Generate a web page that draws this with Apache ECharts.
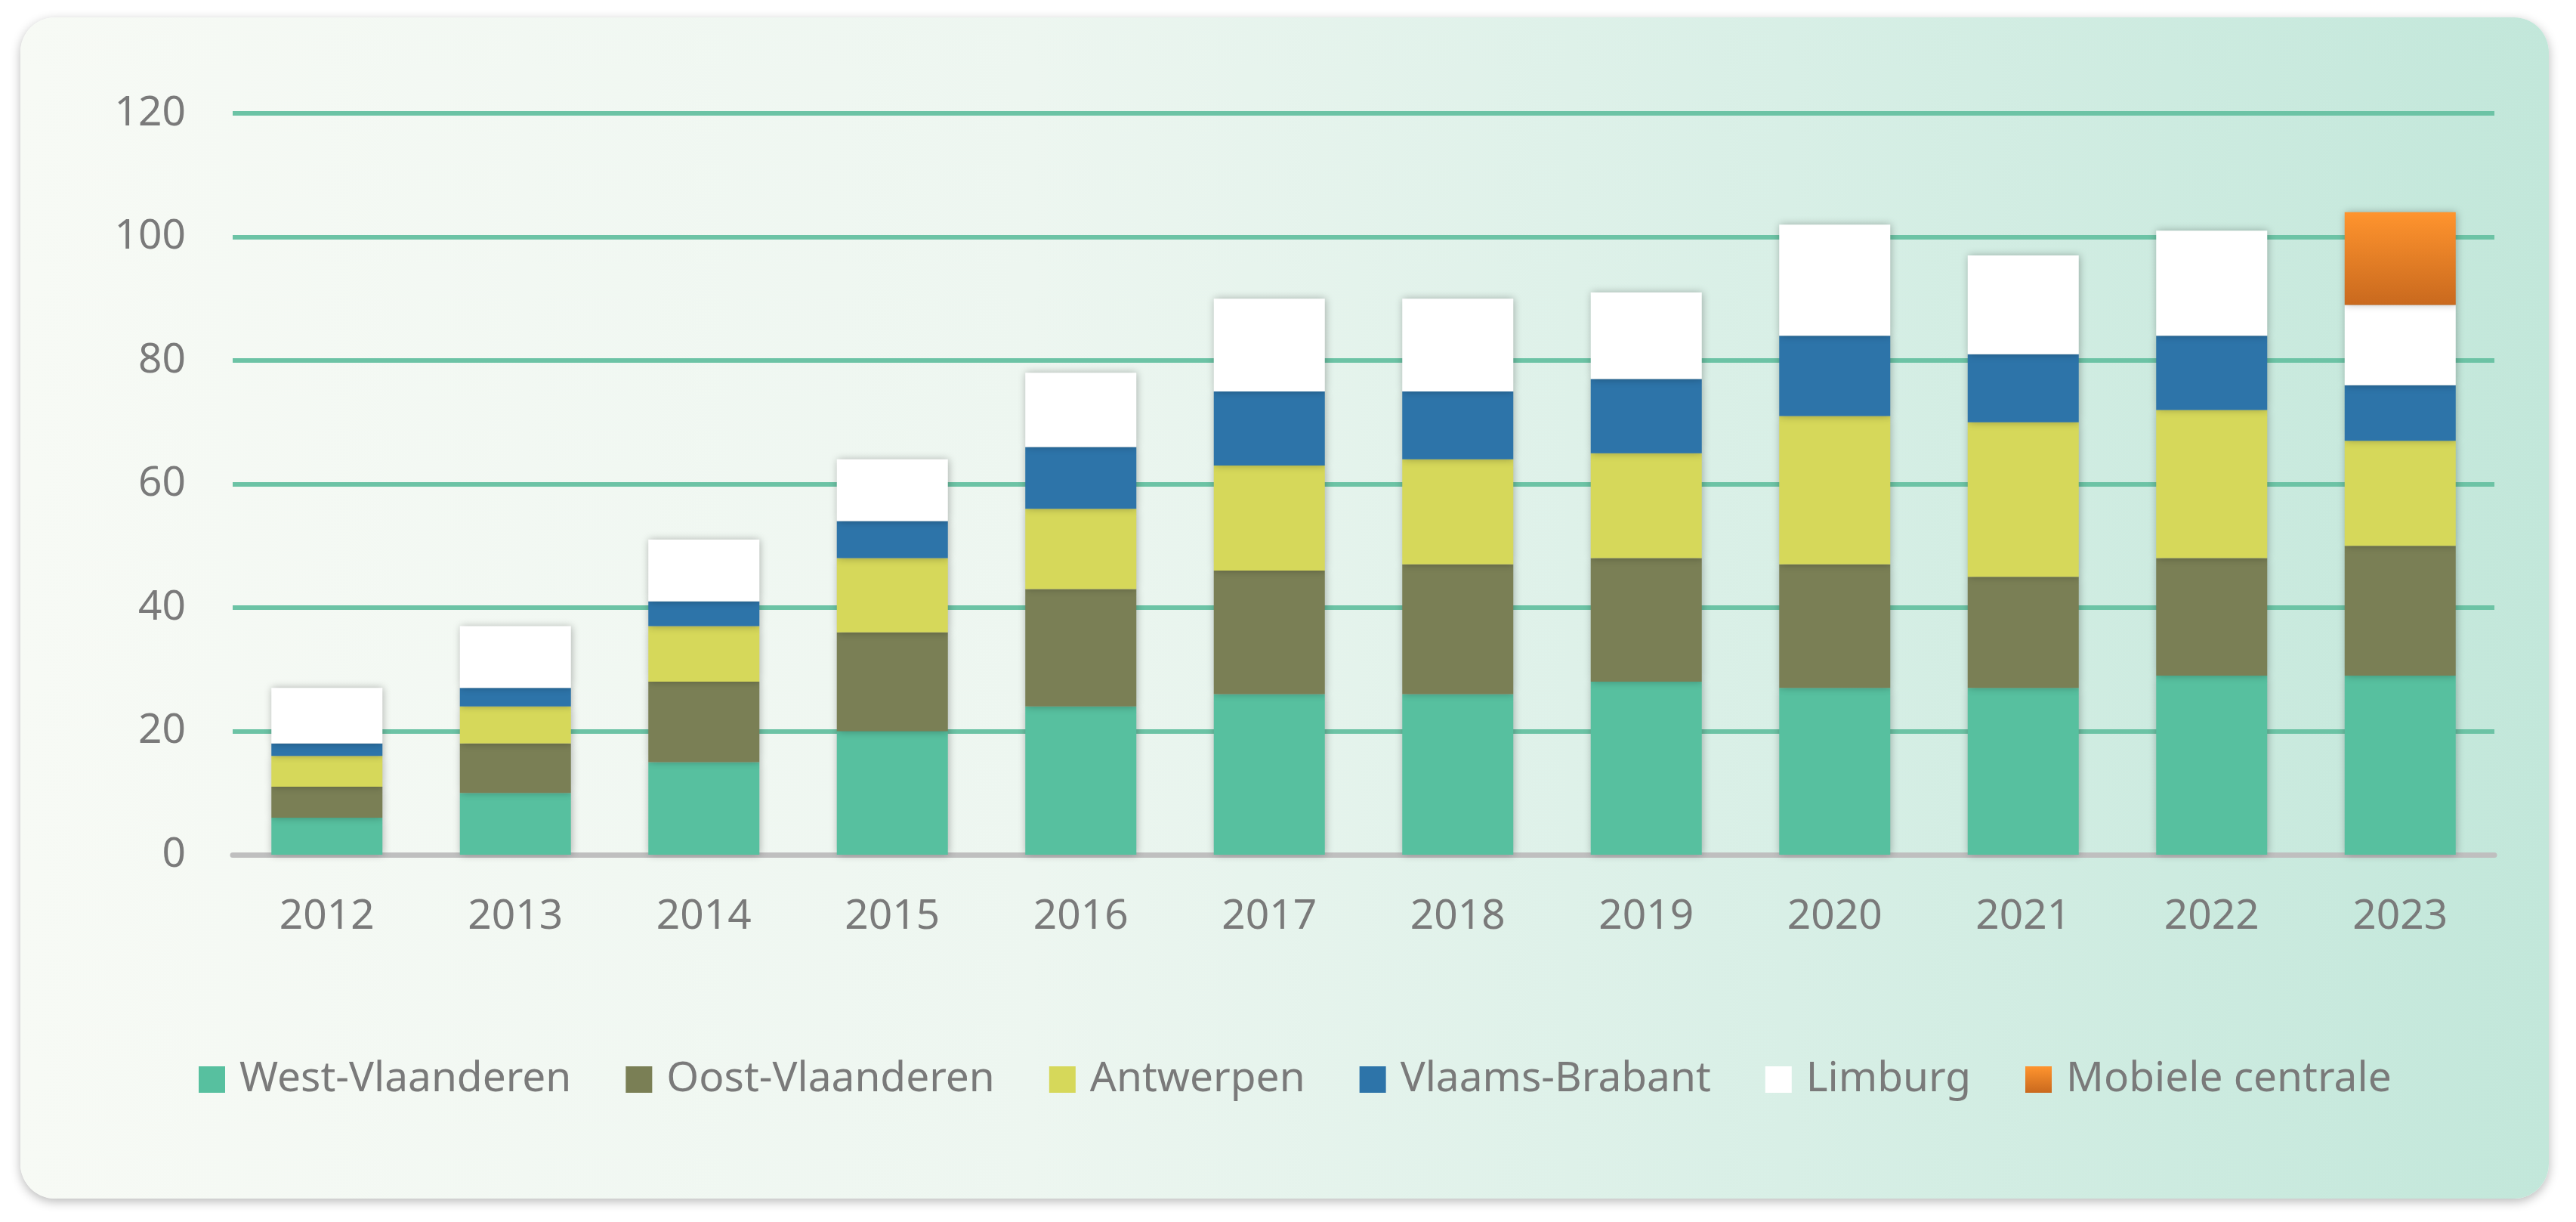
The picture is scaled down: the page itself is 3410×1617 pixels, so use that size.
<!DOCTYPE html>
<html>
<head>
<meta charset="utf-8">
<script src="https://cdn.jsdelivr.net/npm/echarts@6/dist/echarts.min.js"></script>
<style>
  html, body { margin:0; padding:0; background:#ffffff; width:3410px; height:1617px; overflow:hidden; }
  #card { position:absolute; left:27px; top:23px; width:3347px; height:1563px; border-radius:46px;
          background: linear-gradient(to right, #f7faf5 0%, #edf6f0 40%, #d8efe6 70%, #c2e7da 100%);
          box-shadow: 0 4px 14px rgba(0,0,0,0.28); }
  #chart { position:absolute; left:0; top:0; width:3410px; height:1617px; }
</style>
</head>
<body>
<div id="card"></div>
<div id="chart"></div>
<script>
const years = ['2012','2013','2014','2015','2016','2017','2018','2019','2020','2021','2022','2023'];
const westVlaanderen = [6, 10, 15, 20, 24, 26, 26, 28, 27, 27, 29, 29];
const oostVlaanderen = [5, 8, 13, 16, 19, 20, 21, 20, 20, 18, 19, 21];
const antwerpen      = [5, 6, 9, 12, 13, 17, 17, 17, 24, 25, 24, 17];
const vlaamsBrabant  = [2, 3, 4, 6, 10, 12, 11, 12, 13, 11, 12, 9];
const limburg        = [9, 10, 10, 10, 12, 15, 15, 14, 18, 16, 17, 13];
const mobieleCentrale = [null, null, null, null, null, null, null, null, null, null, null, 15];
const yTicks = { min: 0, max: 120, interval: 20 };

const chart = echarts.init(document.getElementById('chart'), null, { renderer: 'canvas' });
const font = '"Noto Sans", sans-serif';
const grey = '#7a7a7a';
const barShadow = { shadowBlur: 10, shadowColor: 'rgba(0,0,0,0.28)', shadowOffsetX: 1, shadowOffsetY: 0 };

function series(name, data, color) {
  return {
    name, type: 'bar', stack: 'total', data,
    barWidth: 147,
    itemStyle: Object.assign({ color }, barShadow),
    emphasis: { disabled: true }
  };
}

chart.setOption({
  animation: false,
  backgroundColor: 'transparent',
  grid: { left: 308, right: 108, top: 150, bottom: 486 },
  legend: {
    left: 263, top: 1401, itemWidth: 35, itemHeight: 35, itemGap: 72, padding: 0,
    icon: 'rect',
    textStyle: { color: grey, fontSize: 55, fontFamily: font, padding: [0, 0, 0, 14] },
    data: ['West-Vlaanderen', 'Oost-Vlaanderen', 'Antwerpen', 'Vlaams-Brabant', 'Limburg', 'Mobiele centrale']
  },
  xAxis: {
    type: 'category', data: years,
    axisLine: { show: true, lineStyle: { color: '#bfbfbf', width: 7 } },
    axisTick: { show: false },
    axisLabel: { color: grey, fontSize: 55, fontFamily: font, margin: 55 }
  },
  yAxis: {
    type: 'value', min: yTicks.min, max: yTicks.max, interval: yTicks.interval,
    axisLine: { show: false }, axisTick: { show: false },
    axisLabel: { color: grey, fontSize: 55, fontFamily: font, margin: 62 },
    splitLine: { lineStyle: { color: '#6cc3a5', width: 6 } }
  },
  series: [
    series('West-Vlaanderen', westVlaanderen, '#57c09f'),
    series('Oost-Vlaanderen', oostVlaanderen, '#7a7f55'),
    series('Antwerpen', antwerpen, '#d6d85a'),
    series('Vlaams-Brabant', vlaamsBrabant, '#2d74a9'),
    series('Limburg', limburg, '#ffffff'),
    series('Mobiele centrale', mobieleCentrale, new echarts.graphic.LinearGradient(0, 0, 0, 1, [
      { offset: 0, color: '#ff942e' }, { offset: 1, color: '#c9691e' }
    ]))
  ]
});
</script>
</body>
</html>
